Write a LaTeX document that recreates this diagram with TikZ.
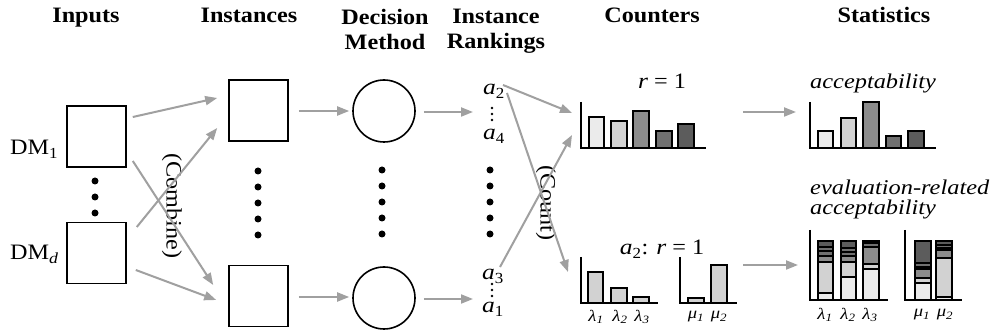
\documentclass[tikz,border=0pt]{standalone}
\usepackage{fontspec}
\setmainfont{Liberation Serif}[FakeStretch=1.1, ItalicFeatures={FakeStretch=1.16}]
\usetikzlibrary{arrows.meta,calc}
\definecolor{arrgray}{HTML}{A0A0A0}
\definecolor{ca}{HTML}{EBEBEB}
\definecolor{cb}{HTML}{D2D2D2}
\definecolor{cc}{HTML}{8C8C8C}
\definecolor{cd}{HTML}{707070}
\definecolor{ce}{HTML}{5C5C5C}
\tikzset{
  arr/.style={draw=arrgray, line width=2pt, -{Triangle[length=12pt,width=9pt]}},
  sqbox/.style={draw, line width=1.6pt, minimum width=59pt, minimum height=61pt, inner sep=0pt},
  circ/.style={draw, circle, line width=1.6pt, minimum size=62pt, inner sep=0pt},
  head/.style={font=\fontsize{22}{25}\selectfont\bfseries, inner sep=0pt, align=center},
  txt/.style={font=\fontsize{22}{25}\selectfont, inner sep=0pt},
  small/.style={font=\fontsize{16}{18}\selectfont\itshape, inner sep=0pt},
  bigdot/.style={fill=black, circle, inner sep=0pt, minimum size=7pt},
  barst/.style={draw=black, line width=1.5pt},
  axis/.style={draw=black, line width=1.6pt},
}
\begin{document}
\begin{tikzpicture}[x=1pt,y=-1pt]
\useasboundingbox[fill=white] (0,0) rectangle (996,336);

% headings
\node[head, anchor=base] (hIn) at (86,23) {Inputs};
\node[head, anchor=base] (hInst) at (249,23) {Instances};
\node[head, anchor=north] (hDec) at (385,9) {Decision\\Method};
\node[head, anchor=north] (hRank) at (496,9) {Instance\\Rankings};
\node[head, anchor=base] (hCnt) at (652,23) {Counters};
\node[head, anchor=base] (hStat) at (884,23) {Statistics};

% inputs
\node[sqbox] (dm1) at (96.5,136.5) {};
\node[sqbox] (dmd) at (96.5,253) {};
\node[txt, anchor=base west] (ldm1) at (10,155) {DM\textsubscript{1}};
\node[txt, anchor=base west] (ldmd) at (10,260) {DM\textsubscript{\itshape d}};
\foreach \y [count=\i] in {181,197,213} \node[bigdot] (idot\i) at (95,\y) {};

% instances
\node[sqbox] (inst1) at (258.5,110.5) {};
\node[sqbox] (instn) at (258.5,296) {};
\foreach \y [count=\i] in {171,187,203,219,235} \node[bigdot] (sdot\i) at (258,\y) {};

% decision method
\node[circ] (c1) at (384,111) {};
\node[circ] (cn) at (384,298) {};
\foreach \y [count=\i] in {170,186,202,218,234} \node[bigdot] (cdot\i) at (382,\y) {};

% rankings
\node[txt, anchor=base west] (ra2) at (483,95) {\itshape a\textsubscript{\upshape 2}};
\node[txt, anchor=base west] (ra4) at (483,140) {\itshape a\textsubscript{\upshape 4}};
\node[txt, anchor=base west] (ra3) at (482,280) {\itshape a\textsubscript{\upshape 3}};
\node[txt, anchor=base west] (ra1) at (482,313) {\itshape a\textsubscript{\upshape 1}};
\foreach \y in {108,114,120,284,290,296} \fill (492,\y) circle (1.3pt);
\foreach \y [count=\i] in {170,186,202,218,234} \node[bigdot] (rdot\i) at (490,\y) {};

% combine / count labels
\node[txt, rotate=-90] (lcomb) at (172,206) {(Combine)};
\node[txt, rotate=-90] (lcount) at (546,203) {(Count)};

% chart origins
\coordinate (cnt1) at (581,148);
\coordinate (cnt2) at (581,303);
\coordinate (cnt3) at (680,303);
\coordinate (st1) at (810,148);
\coordinate (st2) at (810,300);
\coordinate (st3) at (905,300);

% arrows inputs -> instances
\draw[arr] ($(dm1.east)+(6,-19.5)$) -- ($(inst1.west)+(-11,-12.5)$);
\draw[arr] ($(dm1.east)+(6,24.5)$) -- ($(instn.west)+(-15,-11)$);
\draw[arr] ($(dmd.east)+(10,-26)$) -- ($(inst1.west)+(-11,17.5)$);
\draw[arr] ($(dmd.east)+(9,17)$) -- ($(instn.west)+(-12,4)$);
% instances -> methods
\draw[arr] ($(inst1.east)+(10,0.5)$) -- ($(c1.west)+(-3,0)$);
\draw[arr] ($(instn.east)+(10,1)$) -- ($(cn.west)+(-3,-1)$);
% methods -> rankings
\draw[arr] ($(c1.east)+(8,1)$) -- ($(ra2.base west)+(-10,17)$);
\draw[arr] ($(cn.east)+(8,1)$) -- ($(ra1.base west)+(-9,-14)$);
% rankings -> counters
\draw[arr] ($(ra2.base west)+(20,-10)$) -- ($(cnt1)+(-9,-35)$);
\draw[arr] ($(ra2.base west)+(24,-2)$) -- ($(cnt2)+(-13,-31)$);
\draw[arr] ($(ra3.base west)+(18,-13)$) -- ($(cnt1)+(-9,-13)$);
% counters -> statistics
\draw[arr] ($(cnt1)+(162,-36)$) -- ($(st1)+(-14,-36)$);
\draw[arr] ($(cnt3)+(63,-38)$) -- ($(st2)+(-12,-35)$);

% top counter
\node[txt, anchor=base] (lr1) at (662,89) {{\itshape r} = 1};
\foreach \xa/\xb/\yt/\c in {589/604/117/ca, 611/627/121/cb, 633/649/111/cc, 656/672/131/cd, 678/694/124/ce}
  \draw[barst, fill=\c] (\xa,\yt) rectangle (\xb,148);
\draw[axis] (581,102) -- (cnt1) -- (706,148);

% lower counters
\node[txt, anchor=base] (lr2) at (662,255) {{\itshape a}\textsubscript{2}: {\itshape r} = 1};
\foreach \xa/\xb/\yt in {588/603/272, 611/627/288, 633/649/297}
  \draw[barst, fill=cb] (\xa,\yt) rectangle (\xb,303);
\draw[axis] (581,257) -- (cnt2) -- (658,303);
\foreach \xa/\xb/\yt in {688/704/298, 711/727/265}
  \draw[barst, fill=cb] (\xa,\yt) rectangle (\xb,303);
\draw[axis] (680,257) -- (cnt3) -- (737,303);
\node[small] (cl1) at (596,317) {λ\textsubscript{1}};
\node[small] (cl2) at (620,317) {λ\textsubscript{2}};
\node[small] (cl3) at (642,317) {λ\textsubscript{3}};
\node[small] (cm1) at (696,317) {μ\textsubscript{1}};
\node[small] (cm2) at (719,317) {μ\textsubscript{2}};

% top statistics
\node[txt, anchor=base west, font=\fontsize{21}{18}\selectfont\itshape] (lacc) at (810,89) {acceptability};
\foreach \xa/\xb/\yt/\c in {818/833/131/ca, 841/856/118/cb, 863/879/102/cc, 886/901/136/cd, 908/924/131/ce}
  \draw[barst, fill=\c] (\xa,\yt) rectangle (\xb,148);
\draw[axis] (810,102) -- (st1) -- (936,148);

% lower statistics
\node[txt, anchor=north west, align=left, font=\fontsize{21}{19.5}\selectfont\itshape] (levac) at (810,180) {evaluation-related\\acceptability};
\foreach \yt/\yb/\c in {241/247/ce, 247/251/cd, 251/256/cd, 256/262/cc, 262/293/cb, 293/300/ca}
  \draw[barst, fill=\c] (818,\yt) rectangle (833,\yb);
\foreach \yt/\yb/\c in {241/248/ce, 248/252/cd, 252/256/cd, 256/262/cc, 262/277/cb, 277/300/ca}
  \draw[barst, fill=\c] (841,\yt) rectangle (856,\yb);
\foreach \yt/\yb/\c in {241/243/ce, 243/247/cd, 247/264/cc, 264/269/cb, 269/300/ca}
  \draw[barst, fill=\c] (863,\yt) rectangle (879,\yb);
\draw[axis] (810,230) -- (st2) -- (888,300);
\foreach \yt/\yb/\c in {241/263/ce, 263/267/cd, 267/269/cd, 269/278/cc, 278/283/cb, 283/300/ca}
  \draw[barst, fill=\c] (915,\yt) rectangle (931,\yb);
\foreach \yt/\yb/\c in {241/245/ce, 245/248/cd, 248/250/cd, 250/258/cc, 258/297/cb, 297/300/ca}
  \draw[barst, fill=\c] (936,\yt) rectangle (952,\yb);
\draw[axis] (905,230) -- (st3) -- (962,300);
\node[small] (sl1) at (825,315) {λ\textsubscript{1}};
\node[small] (sl2) at (848,315) {λ\textsubscript{2}};
\node[small] (sl3) at (870,315) {λ\textsubscript{3}};
\node[small] (sm1) at (922,315) {μ\textsubscript{1}};
\node[small] (sm2) at (945,315) {μ\textsubscript{2}};
\end{tikzpicture}
\end{document}
